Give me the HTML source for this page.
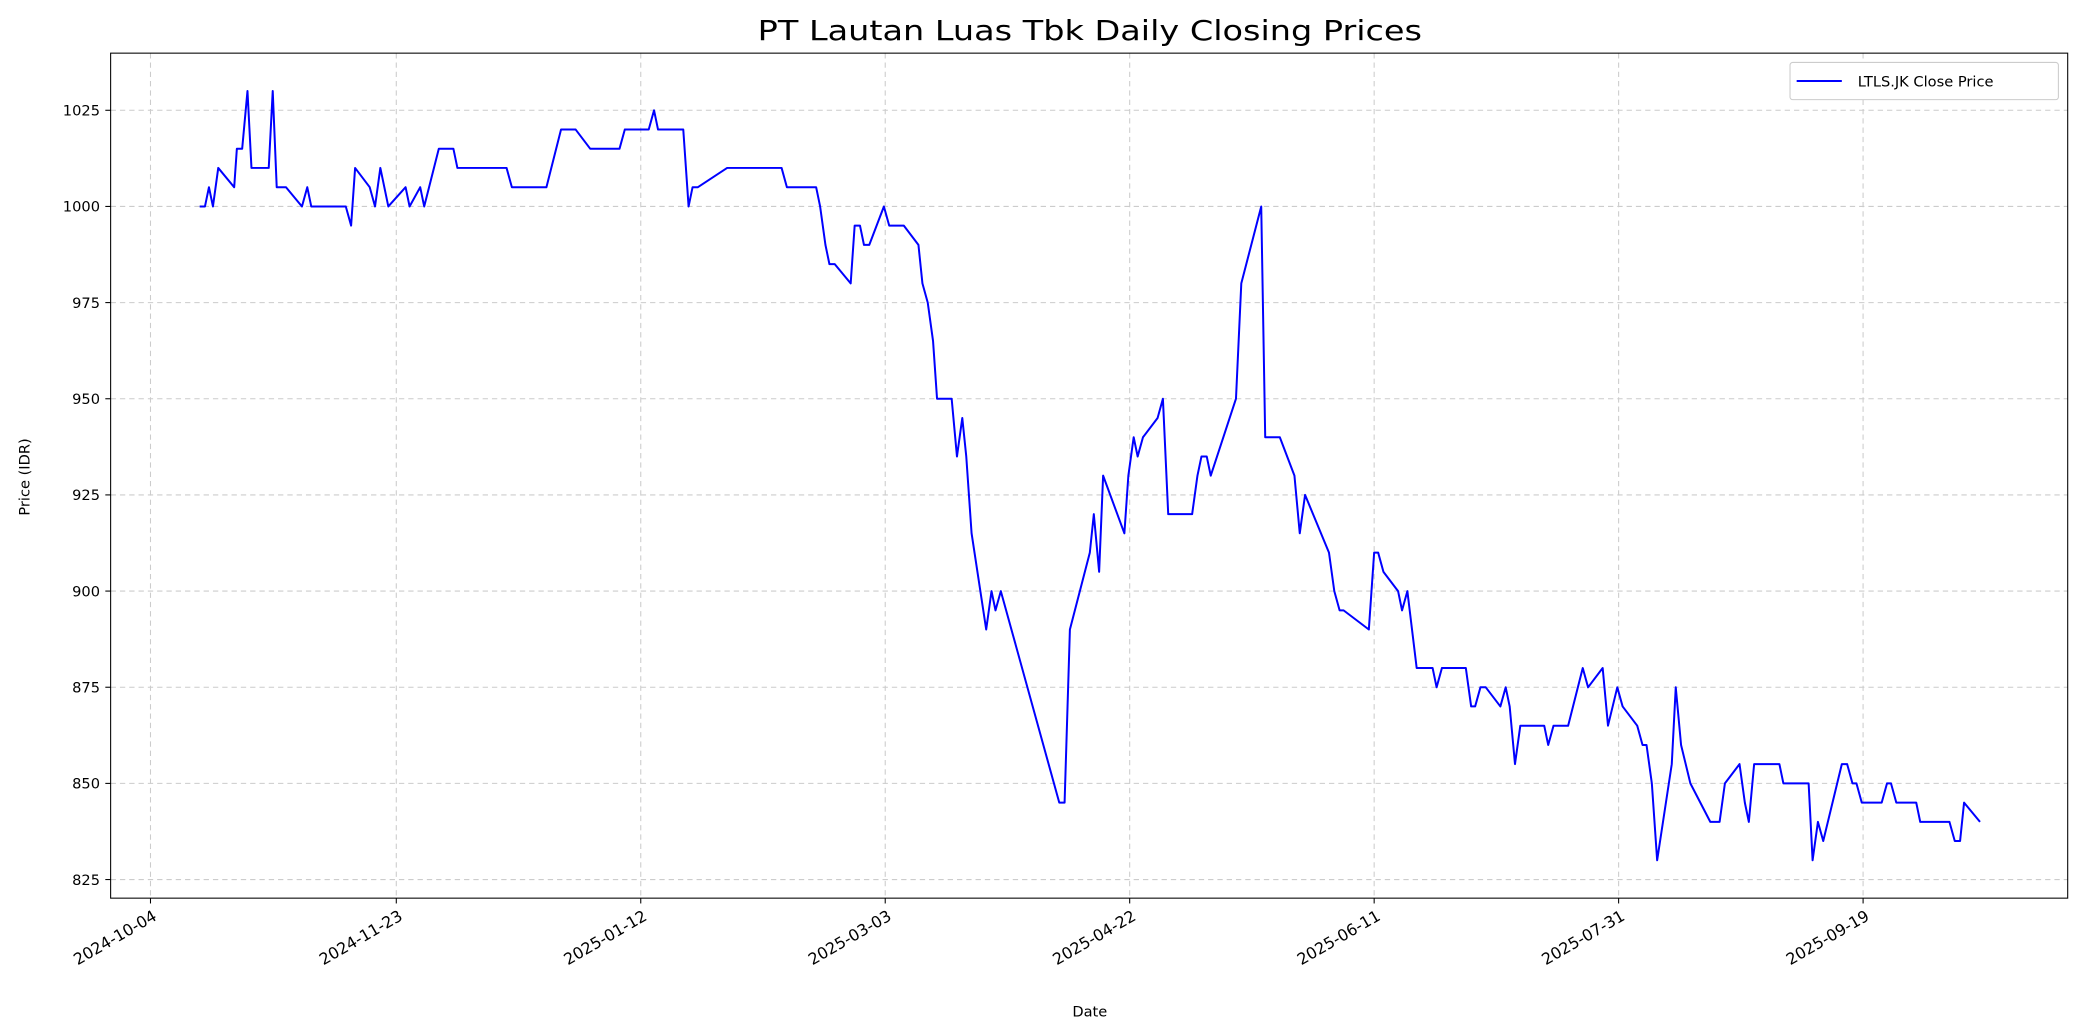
<!DOCTYPE html>
<html><head><meta charset="utf-8"><style>
html,body{margin:0;padding:0;background:#fff;}
svg{display:block;font-family:"DejaVu Sans","Liberation Sans",sans-serif;}
</style></head><body>
<svg id="s" width="2084" height="1035" viewBox="0 0 1568 779" xmlns="http://www.w3.org/2000/svg">
<rect width="1568" height="779" fill="#fff"/>
<g id="grid" stroke="#cccccc" stroke-width="0.8" stroke-dasharray="4,3"></g>
<polyline id="line" fill="none" stroke="#0000ff" stroke-width="1.5" stroke-linejoin="round"/>
<rect x="83" y="40" width="1473" height="636" fill="none" stroke="#000" stroke-width="0.8"/>
<g id="ticks" font-size="11" fill="#000"></g>
<text x="820" y="30" font-size="21" text-anchor="middle" textLength="500" lengthAdjust="spacingAndGlyphs">PT Lautan Luas Tbk Daily Closing Prices</text>
<text x="820" y="765" font-size="11" text-anchor="middle">Date</text>
<text transform="translate(22,359) rotate(-90)" font-size="11" text-anchor="middle">Price (IDR)</text>
<rect x="1347" y="47" width="202" height="28" fill="#fff" stroke="#ccc" stroke-width="0.8" rx="2"/>
<line x1="1352" y1="61" x2="1386" y2="61" stroke="#0000ff" stroke-width="1.5"/>
<text x="1398" y="65" font-size="11">LTLS.JK Close Price</text>
</svg>
<script>
var NS="http://www.w3.org/2000/svg";
function Y(v){return 83+(1025-v)*2.895;}
var g=document.getElementById('grid'),t=document.getElementById('ticks');
function el(p,n,a,txt){var e=document.createElementNS(NS,n);for(var k in a)e.setAttribute(k,a[k]);if(txt)e.textContent=txt;p.appendChild(e);return e;}
var xs=[113,298,482,666,850,1034,1218,1402],xl=["2024-10-04","2024-11-23","2025-01-12","2025-03-03","2025-04-22","2025-06-11","2025-07-31","2025-09-19"];
xs.forEach(function(x,i){el(g,'line',{x1:x,x2:x,y1:40,y2:676});
el(t,'line',{x1:x,x2:x,y1:676,y2:680,stroke:'#000','stroke-width':0.8});
el(t,'text',{x:x+1,y:684,'font-size':12,'text-anchor':'end',transform:'rotate(-30 '+(x+1)+' 684)','dominant-baseline':'hanging'},xl[i]);});
for(var v=825;v<=1025;v+=25){var y=Y(v);el(g,'line',{x1:83,x2:1556,y1:y,y2:y});
el(t,'line',{x1:79,x2:83,y1:y,y2:y,stroke:'#000','stroke-width':0.8});
el(t,'text',{x:75,y:y+4,'text-anchor':'end'},String(v));}
var d=[[150,1000],[154,1000],[157,1005],[160,1000],[164,1010],[176,1005],[178,1015],[182,1015],[186,1030],[189,1010],[202,1010],[205,1030],[208,1005],[215,1005],[227,1000],[231,1005],[234,1000],[260,1000],[264,995],[267,1010],[278,1005],[282,1000],[286,1010],[292,1000],[305,1005],[308,1000],[316,1005],[319,1000],[330,1015],[341,1015],[344,1010],[381,1010],[385,1005],[411,1005],[422,1020],[433,1020],[444,1015],[466,1015],[470,1020],[488,1020],[492,1025],[495,1020],[514,1020],[518,1000],[521,1005],[525,1005],[547,1010],[588,1010],[592,1005],[614,1005],[617,1000],[621,990],[624,985],[628,985],[640,980],[643,995],[647,995],[650,990],[654,990],[665,1000],[669,995],[680,995],[691,990],[694,980],[698,975],[702,965],[705,950],[716,950],[720,935],[724,945],[727,935],[731,915],[742,890],[746,900],[749,895],[753,900],[797,845],[801,845],[805,890],[820,910],[823,920],[827,905],[830,930],[846,915],[849,930],[853,940],[856,935],[860,940],[871,945],[875,950],[879,920],[897,920],[901,930],[904,935],[908,935],[911,930],[930,950],[934,980],[949,1000],[952,940],[963,940],[974,930],[978,915],[982,925],[1000,910],[1004,900],[1008,895],[1011,895],[1030,890],[1034,910],[1037,910],[1041,905],[1052,900],[1055,895],[1059,900],[1066,880],[1078,880],[1081,875],[1085,880],[1103,880],[1107,870],[1110,870],[1114,875],[1118,875],[1129,870],[1133,875],[1136,870],[1140,855],[1144,865],[1162,865],[1165,860],[1169,865],[1180,865],[1191,880],[1195,875],[1206,880],[1210,865],[1217,875],[1221,870],[1232,865],[1236,860],[1239,860],[1243,850],[1247,830],[1258,855],[1261,875],[1265,860],[1272,850],[1287,840],[1294,840],[1298,850],[1309,855],[1313,845],[1316,840],[1320,855],[1339,855],[1342,850],[1361,850],[1364,830],[1368,840],[1372,835],[1386,855],[1390,855],[1394,850],[1397,850],[1401,845],[1416,845],[1420,850],[1423,850],[1427,845],[1442,845],[1445,840],[1467,840],[1471,835],[1475,835],[1478,845],[1490,840]];
document.getElementById('line').setAttribute('points',d.map(function(p){return p[0]+','+Y(p[1]).toFixed(1);}).join(' '));
</script>
</body></html>
